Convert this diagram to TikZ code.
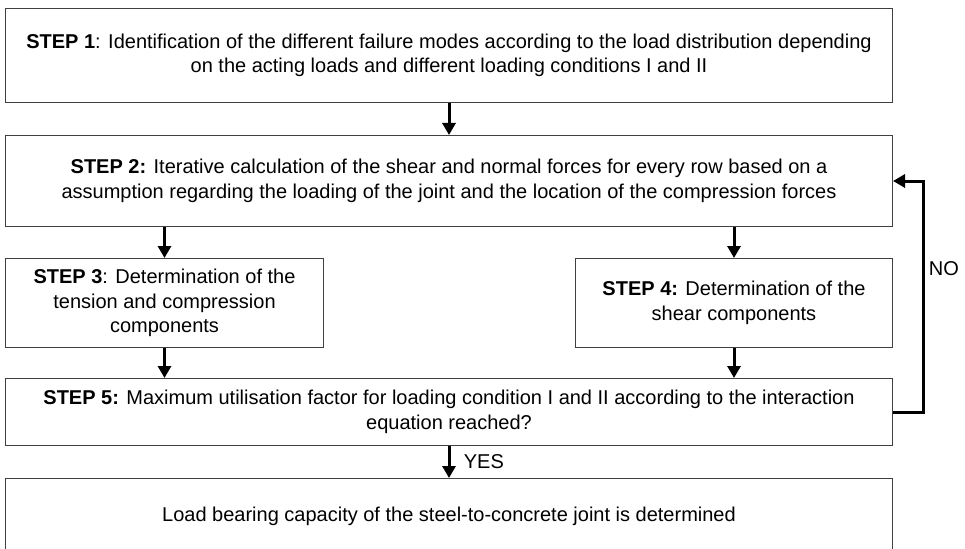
\documentclass[tikz,border=0pt]{standalone}
\usepackage{fontspec}
\setmainfont{Liberation Sans}
\usetikzlibrary{arrows.meta,positioning}

\tikzset{
  stepbox/.style={draw=black!75, line width=1pt, align=center, inner sep=0pt, anchor=north west},
  flow/.style={line width=3pt, -{Triangle[length=12pt,width=13pt]}},
}

\begin{document}
\begin{tikzpicture}[x=1pt,y=-1pt,font=\fontsize{20}{24.5}\selectfont]
\useasboundingbox (0,0) rectangle (965,548);

% steps of the procedure
\node[stepbox, minimum width=887pt, minimum height=94pt] (s1) at (5,8)
  {\textbf{STEP 1}: Identification of the different failure modes according to the load distribution depending\\
   on the acting loads and different loading conditions I and II};
\node[stepbox, minimum width=887pt, minimum height=91pt] (s2) at (5,135)
  {\textbf{STEP 2:} Iterative calculation of the shear and normal forces for every row based on a\\
   assumption regarding the loading of the joint and the location of the compression forces};
\node[stepbox, minimum width=318pt, minimum height=89pt] (s3) at (5,258)
  {\textbf{STEP 3}: Determination of the\\tension and compression\\components};
\node[stepbox, minimum width=317pt, minimum height=89pt] (s4) at (575,258)
  {\textbf{STEP 4:} Determination of the\\shear components};
\node[stepbox, minimum width=887pt, minimum height=67pt] (s5) at (5,378)
  {\textbf{STEP 5:} Maximum utilisation factor for loading condition I and II according to the interaction\\
   equation reached?};
\node[stepbox, minimum width=887pt, minimum height=76pt] (s6) at (5,478)
  {Load bearing capacity of the steel-to-concrete joint is determined};

% arrows
\draw[flow] (s1) -- (s2);
\draw[flow] (s2.south -| s3) -- (s3);
\draw[flow] (s2.south -| s4) -- (s4);
\draw[flow] (s3) -- (s5.north -| s3);
\draw[flow] (s4) -- (s5.north -| s4);
\draw[flow] (s5) -- node[right=10pt] (yes) {YES} (s6);

% iteration loop back to step 2
\coordinate (loop) at (923,0);
\draw[flow] (s5.east) -- (s5.east -| loop) -- node[pos=0.62, right=1pt] (no) {NO} (s2.east -| loop) -- (s2.east);
\end{tikzpicture}
\end{document}
